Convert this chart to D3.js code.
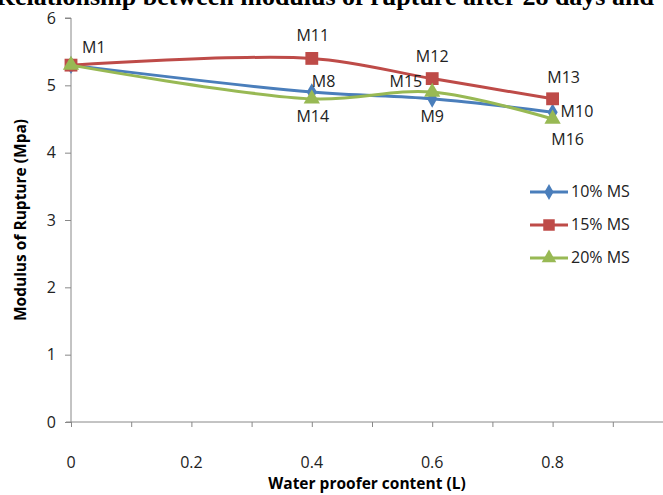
<!DOCTYPE html>
<html>
<head>
<meta charset="utf-8">
<script src="https://cdnjs.cloudflare.com/ajax/libs/d3/7.8.5/d3.min.js"></script>
<style>
  body { margin: 0; background: #fff; }
  svg { display: block; }
</style>
</head>
<body>
<div id="chart"></div>
<script>
// data
const xValues = [0, 0.4, 0.6, 0.8];
const ms10 = [5.3, 4.9, 4.8, 4.6];
const ms15 = [5.3, 5.4, 5.1, 4.8];
const ms20 = [5.3, 4.8, 4.9, 4.5];
const labels10 = ["M1", "M8", "M9", "M10"];
const labels15 = ["", "M11", "M12", "M13"];
const labels20 = ["", "M14", "M15", "M16"];
const seriesNames = ["10% MS", "15% MS", "20% MS"];
const xTickLabels = [0, 0.2, 0.4, 0.6, 0.8];
const yTickLabels = [0, 1, 2, 3, 4, 5, 6];

const width = 663, height = 495;
const font = "'Open Sans', 'Liberation Sans', Arial, sans-serif";

const x = d3.scaleLinear().domain([0, 1]).range([71, 673]);
const y = d3.scaleLinear().domain([0, 6]).range([422, 18]);

const svg = d3.select("#chart").append("svg")
    .attr("width", width)
    .attr("height", height);

// title, cut off by the top of the picture like in the reference
svg.append("text")
    .attr("x", 325).attr("y", 5)
    .attr("text-anchor", "middle")
    .attr("font-family", "'Liberation Serif', 'Times New Roman', serif")
    .attr("font-weight", "bold")
    .attr("font-size", 26)
    .text("Relationship between modulus of rupture after 28 days and");

// y axis
const yAxis = svg.append("g").attr("transform", `translate(${x(0)},0)`)
    .call(d3.axisLeft(y).tickValues(yTickLabels).tickSize(6).tickPadding(9).tickFormat(d3.format("d")));
yAxis.select(".domain").attr("stroke", "#888").attr("d", `M-6,${y(6)}H0V${y(0)}`);
yAxis.selectAll(".tick line").attr("stroke", "#888");
yAxis.selectAll(".tick text").attr("font-family", font).attr("font-size", 16).attr("fill", "#222");

// x axis
const xAxis = svg.append("g").attr("transform", `translate(0,${y(0)})`)
    .call(d3.axisBottom(x).tickValues(d3.range(0, 10).map(i => i / 10)).tickSize(5).tickFormat(""));
xAxis.select(".domain").attr("stroke", "#888").attr("d", `M66,0H${width}`);
xAxis.selectAll(".tick line").attr("stroke", "#888");
svg.append("g").selectAll("text")
    .data(xTickLabels)
    .join("text")
    .attr("x", d => x(d))
    .attr("y", 468)
    .attr("text-anchor", "middle")
    .attr("font-family", font).attr("font-size", 16).attr("fill", "#222")
    .text(d => d === 0 ? "0" : d3.format(".1f")(d));

// axis titles
svg.append("text")
    .attr("x", 367).attr("y", 489)
    .attr("text-anchor", "middle")
    .attr("font-family", font).attr("font-weight", "bold").attr("font-size", 15.5)
    .text("Water proofer content (L)");
svg.append("text")
    .attr("transform", "translate(26,220) rotate(-90)")
    .attr("text-anchor", "middle")
    .attr("font-family", font).attr("font-weight", "bold").attr("font-size", 15.5)
    .text("Modulus of Rupture (Mpa)");

const series = [
  { name: seriesNames[0], values: ms10, labels: labels10, color: "#4A7EBB", symbol: d3.symbolDiamond, size: 90 },
  { name: seriesNames[1], values: ms15, labels: labels15, color: "#BE4B48", symbol: d3.symbolSquare, size: 165 },
  { name: seriesNames[2], values: ms20, labels: labels20, color: "#98B954", symbol: d3.symbolTriangle, size: 115 }
];

const line = d3.line()
    .x((d, i) => x(xValues[i]))
    .y(d => y(d))
    .curve(d3.curveCatmullRom.alpha(0.5));

series.forEach(s => {
  svg.append("path")
      .attr("d", line(s.values))
      .attr("fill", "none")
      .attr("stroke", s.color)
      .attr("stroke-width", 3);
  svg.append("g").selectAll("path")
      .data(s.values)
      .join("path")
      .attr("transform", (d, i) => `translate(${x(xValues[i])},${y(d)})`)
      .attr("d", d3.symbol(s.symbol, s.size))
      .attr("fill", s.color);
});

// point labels: offsets relative to their point
const labelOffsets = {
  M1: [11, -12, "start"], M8: [0, -5, "start"], M9: [0, 23, "middle"], M10: [8, 5, "start"],
  M11: [1, -17, "middle"], M12: [0, -17, "middle"], M13: [11, -16, "middle"],
  M14: [1, 23, "middle"], M15: [-10, -5, "end"], M16: [15, 26, "middle"]
};
series.forEach(s => {
  s.values.forEach((v, i) => {
    const name = s.labels[i];
    if (!name) return;
    const o = labelOffsets[name];
    svg.append("text")
        .attr("x", x(xValues[i]) + o[0])
        .attr("y", y(v) + o[1])
        .attr("text-anchor", o[2])
        .attr("font-family", font).attr("font-size", 16).attr("fill", "#222")
        .text(name);
  });
});

// legend
const legend = svg.append("g");
series.forEach((s, i) => {
  const ly = 192 + i * 33;
  legend.append("line")
      .attr("x1", 530).attr("x2", 568).attr("y1", ly).attr("y2", ly)
      .attr("stroke", s.color).attr("stroke-width", 3);
  legend.append("path")
      .attr("transform", `translate(549,${ly})`)
      .attr("d", d3.symbol(s.symbol, s.size * 0.8))
      .attr("fill", s.color);
  legend.append("text")
      .attr("x", 571).attr("y", ly + 5)
      .attr("font-family", font).attr("font-size", 16).attr("fill", "#222")
      .text(s.name);
});
</script>
</body>
</html>
